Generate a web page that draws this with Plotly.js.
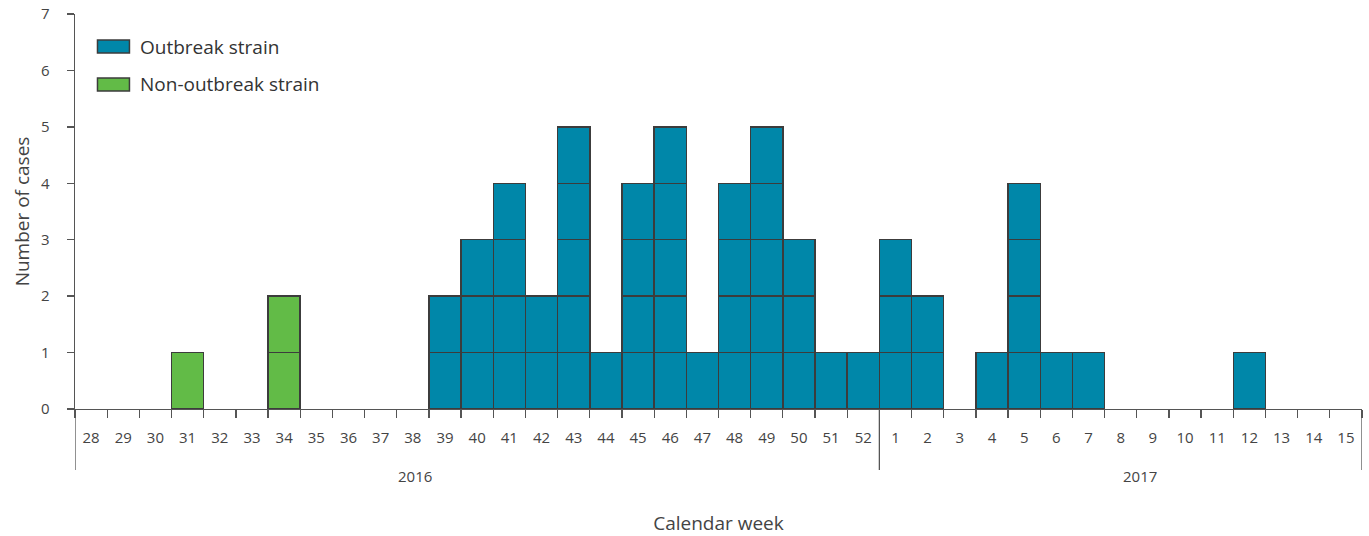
<!DOCTYPE html>
<html>
<head>
<meta charset="utf-8">
<script src="https://cdn.plot.ly/plotly-3.0.1.min.js"></script>
<style>html,body{margin:0;padding:0;background:#fff;}#chart{width:1369px;height:536px;}</style>
</head>
<body>
<div id="chart"></div>
<script>
const weeks = ['28','29','30','31','32','33','34','35','36','37','38','39','40','41','42','43','44','45','46','47','48','49','50','51','52',
               '1','2','3','4','5','6','7','8','9','10','11','12','13','14','15'];
const years = ['2016','2017'];
const outbreak = [0,0,0,0,0,0,0,0,0,0,0, 2,3,4,2,5,1,4,5,1,4,5,3,1,1, 3,2,0,1,4,1,1,0,0,0,0,1,0,0,0];
const nonOutbreak = [0,0,0,1,0,0,2,0,0,0,0, 0,0,0,0,0,0,0,0,0,0,0,0,0,0, 0,0,0,0,0,0,0,0,0,0,0,0,0,0,0];
const seriesNames = ['Outbreak strain','Non-outbreak strain'];

const colors = ['#0087a9', '#62bb47'];
const edge = '#3c3c3c';
const axisColor = '#555555';
const font = 'Open Sans, Lato, sans-serif';

function unitTraces(counts, name, color) {
  const maxC = Math.max(...counts);
  const tr = [];
  for (let k = 1; k <= maxC; k++) {
    tr.push({
      type: 'bar', x: weeks, y: counts.map(c => c >= k ? 1 : null),
      name: name, legendgroup: name, showlegend: false,
      marker: {color: color, line: {color: edge, width: 1.5}},
      hoverinfo: 'skip'
    });
  }
  return tr;
}
const data = [...unitTraces(nonOutbreak, seriesNames[1], colors[1]), ...unitTraces(outbreak, seriesNames[0], colors[0])];

const plotH = 395, plotW = 1288;
const px = v => (v - 74.5) / plotW;
const py = v => (409 - v) / plotH;

const split = weeks.indexOf('1') - 0.5;
const shapes = [
  {type:'line', xref:'x', yref:'paper', x0:-0.5, x1:-0.5, y0:py(470), y1:0, line:{color:axisColor, width:1.3}},
  {type:'line', xref:'x', yref:'paper', x0:split, x1:split, y0:py(470), y1:0, line:{color:axisColor, width:1.3}},
  {type:'line', xref:'x', yref:'paper', x0:weeks.length-0.5, x1:weeks.length-0.5, y0:py(470), y1:0, line:{color:axisColor, width:1.3}},
  {type:'rect', xref:'paper', yref:'paper', x0:px(97), x1:px(129), y0:py(53), y1:py(40), fillcolor:colors[0], line:{color:edge, width:1.5}},
  {type:'rect', xref:'paper', yref:'paper', x0:px(97), x1:px(129), y0:py(91), y1:py(78), fillcolor:colors[1], line:{color:edge, width:1.5}}
];
const annotations = [
  {xref:'paper', yref:'paper', x:px(138), y:py(46.5), xanchor:'left', yanchor:'middle', text:seriesNames[0], showarrow:false, font:{family:font, size:19, color:'#333'}},
  {xref:'paper', yref:'paper', x:px(138), y:py(84.5), xanchor:'left', yanchor:'middle', text:seriesNames[1], showarrow:false, font:{family:font, size:19, color:'#333'}},
  {xref:'x', yref:'paper', x:10.07, y:py(476), xanchor:'center', yanchor:'middle', text:years[0], showarrow:false, font:{family:font, size:15, color:'#444'}},
  {xref:'x', yref:'paper', x:32.6, y:py(476), xanchor:'center', yanchor:'middle', text:years[1], showarrow:false, font:{family:font, size:15, color:'#444'}}
];

const layout = {
  width: 1369, height: 536,
  margin: {l: 74.5, r: 6.5, t: 14, b: 127},
  paper_bgcolor: '#fff', plot_bgcolor: '#fff',
  barmode: 'stack', bargap: 0,
  showlegend: false,
  font: {family: font, color: '#444'},
  xaxis: {
    type: 'category', categoryorder: 'array', categoryarray: weeks,
    range: [-0.5, weeks.length - 0.5],
    showgrid: false, zeroline: false,
    showline: true, linecolor: axisColor, linewidth: 1.3,
    ticks: 'outside', tickson: 'boundaries', ticklen: 8, tickcolor: axisColor, tickwidth: 1.3,
    tickfont: {family: font, size: 15, color: '#444'},
    ticklabelstandoff: 15,
    title: {text: 'Calendar week', font: {family: font, size: 19, color: '#444'}, standoff: 70}
  },
  yaxis: {
    range: [0, 7], dtick: 1, tick0: 0,
    showgrid: false, zeroline: false,
    showline: true, linecolor: axisColor, linewidth: 1.3,
    ticks: 'outside', ticklen: 7, tickcolor: axisColor, tickwidth: 1.3,
    tickfont: {family: font, size: 15, color: '#444'},
    ticklabelstandoff: 14,
    title: {text: 'Number of cases', font: {family: font, size: 19, color: '#444'}, standoff: 6}
  },
  shapes: shapes,
  annotations: annotations
};

Plotly.newPlot('chart', data, layout, {displayModeBar: false, staticPlot: true});
</script>
</body>
</html>
